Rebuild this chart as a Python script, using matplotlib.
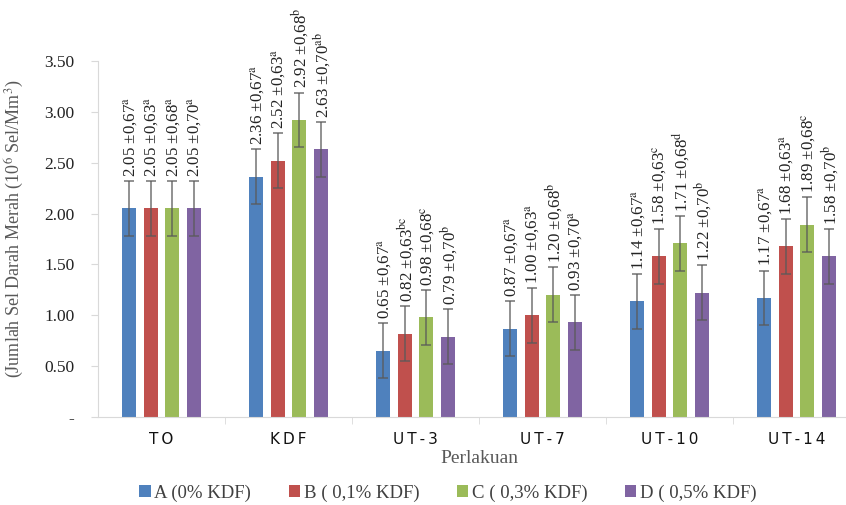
import matplotlib
matplotlib.use("Agg")
import matplotlib.pyplot as plt
import numpy as np

categories = ["TO", "KDF", "UT-3", "UT-7", "UT-10", "UT-14"]
series_names = ["A (0% KDF)", "B ( 0,1% KDF)", "C ( 0,3% KDF)", "D ( 0,5% KDF)"]
vals_A = [2.05, 2.36, 0.65, 0.87, 1.14, 1.17]
vals_B = [2.05, 2.52, 0.82, 1.00, 1.58, 1.68]
vals_C = [2.05, 2.92, 0.98, 1.20, 1.71, 1.89]
vals_D = [2.05, 2.63, 0.79, 0.93, 1.22, 1.58]
err_bar = 0.27
sd_labels = ["0,67", "0,63", "0,68", "0,70"]
letters_A = ["a", "a", "a", "a", "a", "a"]
letters_B = ["a", "a", "bc", "a", "c", "a"]
letters_C = ["a", "b", "c", "b", "d", "c"]
letters_D = ["a", "ab", "b", "a", "b", "b"]
yticks = [0, 0.5, 1.0, 1.5, 2.0, 2.5, 3.0, 3.5]
ytick_labels = ["-", "0.50", "1.00", "1.50", "2.00", "2.50", "3.00", "3.50"]

plt.rcParams['font.family'] = ['Liberation Serif', 'DejaVu Serif']
plt.rcParams['mathtext.fontset'] = 'stix'

colors = ["#4F81BD", "#C0504D", "#9BBB59", "#8064A2"]
series = [vals_A, vals_B, vals_C, vals_D]
letters = [letters_A, letters_B, letters_C, letters_D]

fig = plt.figure(figsize=(8.46, 5.05), dpi=100)
ax = fig.add_axes([98/846, 88/505, 6*127/846, 356/505])

x = np.arange(len(categories))
w = 0.11
offsets = [-0.255, -0.085, 0.085, 0.255]
for i in range(4):
    xs = x + offsets[i]
    ax.bar(xs, series[i], width=w, color=colors[i], label=series_names[i], zorder=2)
    ax.errorbar(xs, series[i], yerr=err_bar, fmt='none', ecolor='#5a5a5a',
                elinewidth=1.1, capsize=3.5, capthick=1.1, alpha=0.85, zorder=3)
    for j, v in enumerate(series[i]):
        txt = f"{v:.2f} \u00b1{sd_labels[i]}$^{{\\mathrm{{{letters[i][j]}}}}}$"
        ax.text(xs[j] + 0.01, v + err_bar + 0.04, txt, rotation=90, ha='center', va='bottom',
                fontsize=12.2, color='#222222', clip_on=False)

ax.set_xlim(-0.5, len(categories) - 0.5)
ax.set_ylim(0, 3.5)
ax.set_yticks(yticks)
ax.set_yticklabels(ytick_labels, fontsize=12.5, color='#222222')
ax.set_xticks(x)
ax.set_xticklabels(["\u2009".join(c) for c in categories], fontfamily='DejaVu Sans', fontsize=11, color='#111111')
ax.tick_params(axis='x', length=0, pad=11)
ax.set_xticks(np.arange(0.5, len(categories) - 0.5, 1.0), minor=True)
ax.tick_params(axis='x', which='minor', length=5, color='#d9d9d9')
ax.tick_params(axis='y', length=5, color='#d9d9d9', pad=12)
for s in ['top', 'right']:
    ax.spines[s].set_visible(False)
ax.spines['left'].set_color('#d9d9d9')
ax.spines['bottom'].set_color('#d9d9d9')

ax.set_xlabel("Perlakuan", fontsize=14, color='#595959', labelpad=2)
ax.set_ylabel("(Jumlah Sel Darah Merah (10$^{6}$ Sel/Mm$^{3}$)", fontsize=13, color='#595959')
ax.yaxis.set_label_coords(-0.094, 0.53)

handles, labels = ax.get_legend_handles_labels()
fig.legend(handles, labels, loc='center', bbox_to_anchor=(448/846, 1 - 493/505), ncol=4,
           frameon=False, fontsize=13.5, handlelength=0.6, handleheight=0.6, handletextpad=0.2,
           columnspacing=2.0, labelcolor='#404040')

fig.savefig("out.png", dpi=100)
